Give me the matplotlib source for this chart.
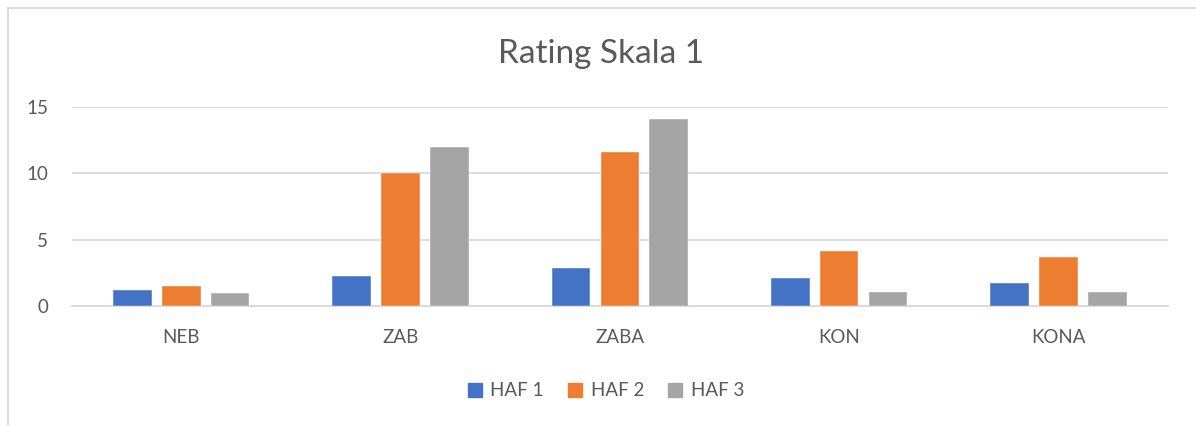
import matplotlib
matplotlib.use("Agg")
import matplotlib.pyplot as plt
import numpy as np
from matplotlib.lines import Line2D

categories = ["NEB", "ZAB", "ZABA", "KON", "KONA"]
series_names = ["HAF 1", "HAF 2", "HAF 3"]
haf1 = [1.23, 2.3, 2.86, 2.13, 1.78]
haf2 = [1.5, 10.0, 11.6, 4.13, 3.68]
haf3 = [1.03, 11.95, 14.08, 1.1, 1.05]
yticks = [0, 5, 10, 15]

colors = ["#4472C4", "#ED7D31", "#A5A5A5"]
text_col = "#595959"
grid_col = "#D9D9D9"
font = ["Lato", "DejaVu Sans"]
plt.rcParams["font.family"] = font

W, H = 1196, 425
fig = plt.figure(figsize=(W / 100, H / 100), dpi=100)
fig.patch.set_facecolor("white")

ax = fig.add_axes([71.7 / W, 1 - 306.3 / H, (1168 - 71.7) / W, (306.3 - 106.7) / H])
x = np.arange(len(categories))
bw = 0.1765
step = 0.2225
for i, (vals, c, n) in enumerate(zip([haf1, haf2, haf3], colors, series_names)):
    ax.bar(x + (i - 1) * step, vals, width=bw, color=c, label=n,
           edgecolor="white", linewidth=0.3, zorder=3)

ax.set_xlim(-0.5, len(categories) - 0.5)
ax.set_ylim(0, 15)
ax.set_yticks(yticks)
ax.set_xticks(x)
ax.set_xticklabels(categories)
ax.yaxis.grid(True, color=grid_col, linewidth=1.3, zorder=0)
ax.set_axisbelow(True)
for s in ["top", "right", "left"]:
    ax.spines[s].set_visible(False)
ax.spines["bottom"].set_color(grid_col)
ax.spines["bottom"].set_linewidth(1.3)
ax.tick_params(axis="both", length=0, colors=text_col, labelsize=13.5)
ax.tick_params(axis="y", pad=17)
ax.tick_params(axis="x", pad=16)

fig.text(601 / W, 1 - 54 / H, "Rating Skala 1", ha="center", va="center",
         fontsize=24, color=text_col)

handles = [plt.Rectangle((0, 0), 1, 1, color=c) for c in colors]
leg = fig.legend(handles, series_names, loc="center", bbox_to_anchor=(606 / W, 1 - 391 / H),
                 ncol=3, frameon=False, fontsize=13.5, handlelength=0.75, handleheight=0.75,
                 handletextpad=0.45, columnspacing=1.3)
for t in leg.get_texts():
    t.set_color(text_col)

# chart border (cropped: top and left visible)
fig.add_artist(Line2D([7.5 / W, 1], [1 - 8 / H, 1 - 8 / H], transform=fig.transFigure,
                      color=grid_col, linewidth=1.3))
fig.add_artist(Line2D([7.5 / W, 7.5 / W], [0, 1 - 8 / H], transform=fig.transFigure,
                      color=grid_col, linewidth=1.3))

fig.savefig("out.png", dpi=100, facecolor="white")
